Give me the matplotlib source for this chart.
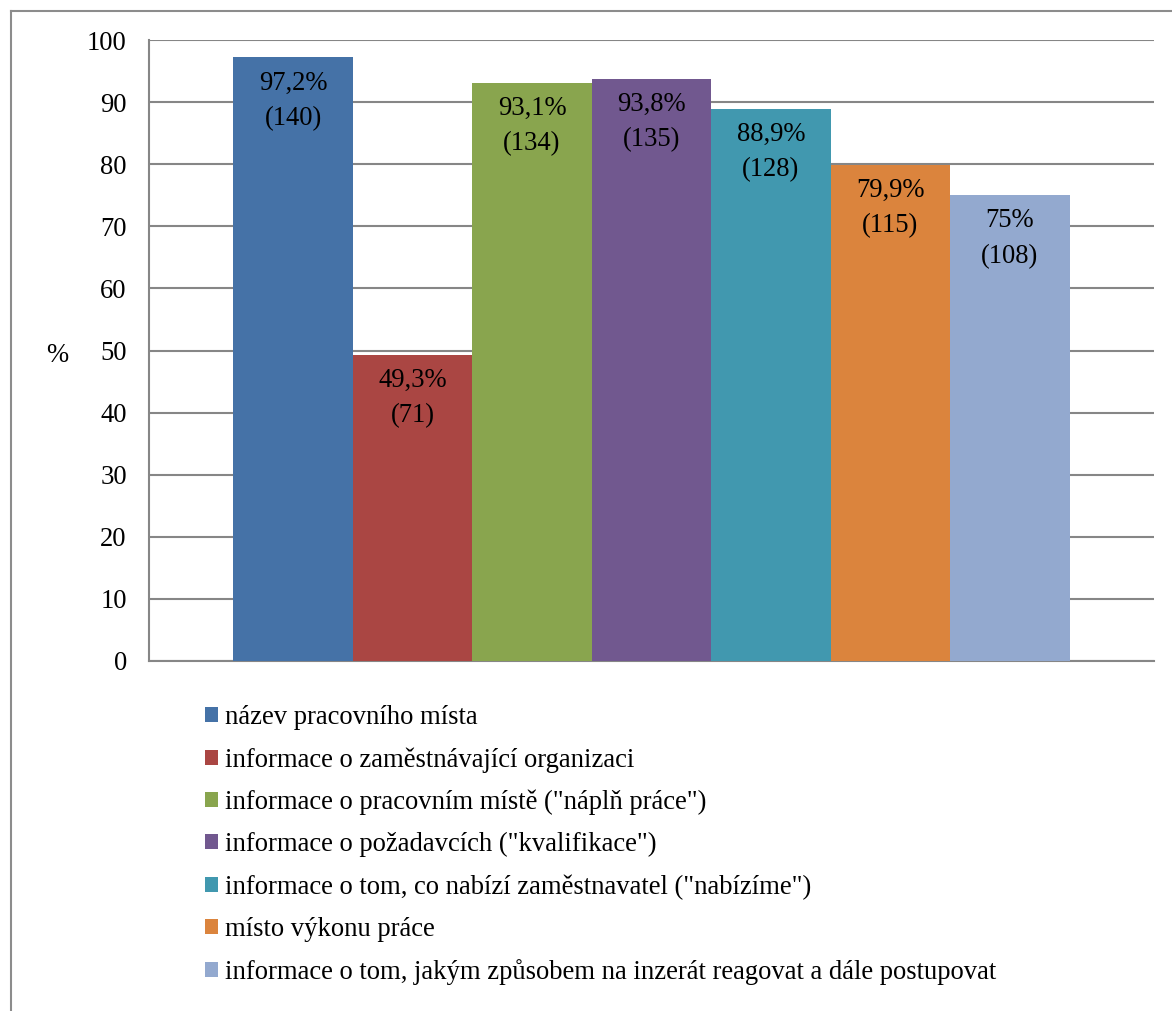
import matplotlib
matplotlib.use("Agg")
import matplotlib.pyplot as plt
from matplotlib.lines import Line2D
from matplotlib.patches import Patch

categories = [
    "název pracovního místa",
    "informace o zaměstnávající organizaci",
    "informace o pracovním místě (\"náplň práce\")",
    "informace o požadavcích (\"kvalifikace\")",
    "informace o tom, co nabízí zaměstnavatel (\"nabízíme\")",
    "místo výkonu práce",
    "informace o tom, jakým způsobem na inzerát reagovat a dále postupovat",
]
percent = [97.2, 49.3, 93.1, 93.8, 88.9, 79.9, 75.0]
percent_labels = ["97,2%", "49,3%", "93,1%", "93,8%", "88,9%", "79,9%", "75%"]
counts = [140, 71, 134, 135, 128, 115, 108]
colors = ["#4572A7", "#AA4643", "#89A54E", "#71588F", "#4198AF", "#DB843D", "#93A9CF"]
yticks = [0, 10, 20, 30, 40, 50, 60, 70, 80, 90, 100]

plt.rcParams['font.family'] = ['Liberation Serif', 'DejaVu Serif']
FS = 19.2

W, H = 1172, 1011
fig = plt.figure(figsize=(W / 100, H / 100), dpi=100)
ax = fig.add_axes([149 / W, 350 / H, 1005 / W, 621 / H])

grid_c = "#868686"
for i, (v, c) in enumerate(zip(percent, colors)):
    ax.bar(i, v, width=1.0, color=c, zorder=3, linewidth=0)
    ax.annotate(f"{percent_labels[i]}\n({counts[i]})", xy=(i, v), xytext=(0, -9.5),
                textcoords="offset points", ha="center", va="top", fontsize=FS,
                linespacing=1.55, zorder=4, color="black")

ax.set_xlim(-1.206, 7.206)
ax.set_ylim(0, 100)
ax.set_yticks(yticks)
ax.set_yticklabels([str(t) for t in yticks], fontsize=FS)
ax.set_xticks([])
ax.tick_params(axis='y', length=0, pad=16)
ax.yaxis.grid(True, color=grid_c, linewidth=1.5, zorder=0)
ax.set_axisbelow(True)
for s in ["top", "right"]:
    ax.spines[s].set_visible(False)
for s in ["left", "bottom"]:
    ax.spines[s].set_color(grid_c)
    ax.spines[s].set_linewidth(1.5)

fig.text(57 / W, 1 - 355 / H, "%", fontsize=FS, ha="center", va="center")

handles = [Patch(facecolor=c, edgecolor="none") for c in colors]
fig.legend(handles, categories, loc="upper left", bbox_to_anchor=(205 / W, 1 - 705 / H),
           frameon=False, fontsize=FS, handlelength=0.5, handleheight=0.5,
           handletextpad=0.24, labelspacing=0.64, borderaxespad=0, borderpad=0)

# outer frame
fig.add_artist(Line2D([11 / W, 11 / W], [0, 1 - 11 / H], color="#8c8c8c", linewidth=1.5))
fig.add_artist(Line2D([11 / W, 1.0], [1 - 11 / H, 1 - 11 / H], color="#8c8c8c", linewidth=1.5))

fig.savefig("out.png", dpi=100, facecolor="white")
